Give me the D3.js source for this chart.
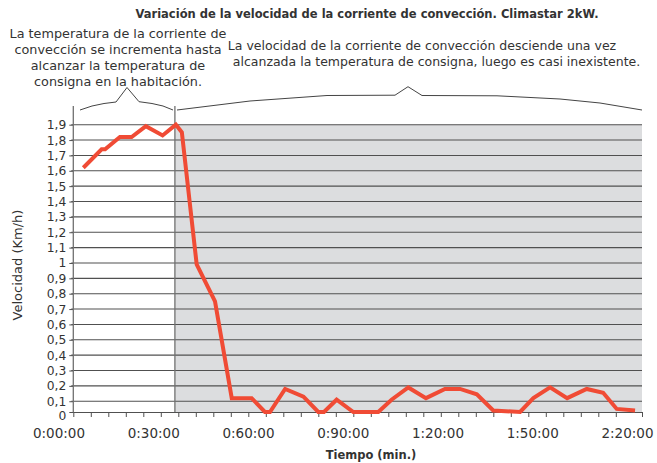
<!DOCTYPE html>
<html>
<head>
<meta charset="utf-8">
<script src="https://cdnjs.cloudflare.com/ajax/libs/d3/7.8.5/d3.min.js"></script>
<style>
  body { margin: 0; background: #fff; }
  svg { display: block; }
  text { font-family: "DejaVu Sans", sans-serif; fill: #333; }
</style>
</head>
<body>
<svg></svg>
<script>
// time (min) and speed (km/h)
const times = [7.7, 13.5, 14.6, 19.3, 23.0, 27.5, 32.8, 37.0, 38.9, 43.6, 49.4, 54.7, 61.0, 65.2, 66.8,
  71.6, 77.4, 82.1, 83.9, 87.9, 93.2, 101.1, 105.3, 110.6, 116.2, 122.2, 127.0, 132.3, 137.5, 146.0,
  150.2, 155.5, 160.9, 167.1, 172.3, 176.6, 182.4]
const speeds = [1.62, 1.74, 1.74, 1.82, 1.82, 1.89, 1.83, 1.9, 1.85, 0.99, 0.75, 0.12, 0.12, 0, 0,
  0.18, 0.13, 0, 0, 0.11, 0, 0, 0.11, 0.19, 0.12, 0.18, 0.18, 0.145, 0.04, 0.03,
  0.12, 0.19, 0.12, 0.18, 0.155, 0.05, 0.04]

const xLabels = ["0:00:00", "0:30:00", "0:60:00", "0:90:00", "1:20:00", "1:50:00", "2:20:00"]
const xLabelTimes = [0, 30, 60, 90, 120, 150, 180]
const yTicks = [0, 0.1, 0.2, 0.3, 0.4, 0.5, 0.6, 0.7, 0.8, 0.9, 1, 1.1, 1.2, 1.3, 1.4, 1.5, 1.6, 1.7, 1.8, 1.9]
const consigna = 36.7   // moment the set temperature is reached

const title = "Variación de la velocidad de la corriente de convección. Climastar 2kW."
const noteLeft = ["La temperatura de la corriente de", "convección se incrementa hasta",
  "alcanzar la temperatura de", "consigna en la habitación."]
const noteRight = ["La velocidad de la corriente de convección desciende una vez",
  "alcanzada la temperatura de consigna, luego es casi inexistente."]

const width = 657, height = 463
const mLeft = 73.3, mRight = 642, mTop = 124.7, mBottom = 412

const svg = d3.select("svg")
  .attr("width", width)
  .attr("height", height)

const x = d3.scaleLinear()
  .domain([4.53, 184.6])
  .range([mLeft, mRight])

const y = d3.scaleLinear()
  .domain([0.03, 1.9])
  .range([mBottom, mTop])
  .clamp(true)

// shaded part after the set temperature
svg.append("rect")
  .attr("x", x(consigna))
  .attr("y", y(1.9))
  .attr("width", x.range()[1] - x(consigna))
  .attr("height", y(0) - y(1.9))
  .attr("fill", "#dcdddf")

// grid
svg.append("g")
  .selectAll("line")
  .data(yTicks.filter(d => d > 0))
  .join("line")
    .attr("x1", mLeft - 2)
    .attr("x2", mRight)
    .attr("y1", d => y(d))
    .attr("y2", d => y(d))
    .attr("stroke", "#505050")
    .attr("stroke-width", 1.1)

// y axis
const yAxis = d3.axisLeft(y)
  .tickValues(yTicks)
  .tickSize(4)
  .tickFormat(d => d3.format("~g")(d).replace(".", ","))

svg.append("g")
  .attr("transform", `translate(${mLeft},0)`)
  .call(yAxis)
  .call(g => g.select(".domain").remove())
  .call(g => g.selectAll("line").attr("stroke", "#505050"))
  .call(g => g.selectAll("text").attr("x", -7).attr("font-size", 12.3).attr("fill", "#3a3a3a")
    .attr("y", d => d === 0 ? 3.5 : 0)
    .style("font-family", "'DejaVu Sans', sans-serif"))

// x axis with small ticks
const step = 17.5 / (x(1) - x(0))
const xTicks = d3.range(x.domain()[0], x.domain()[1] - step / 2, step).concat([x.domain()[1]])
const xAxis = d3.axisBottom(x)
  .tickValues(xTicks)
  .tickSize(5)
  .tickFormat("")

svg.append("g")
  .attr("transform", `translate(0,${mBottom})`)
  .call(xAxis)
  .call(g => g.select(".domain").attr("stroke", "#505050").attr("d", `M${mLeft},0.5H${mRight}`))
  .call(g => g.selectAll("line").attr("stroke", "#505050"))

svg.append("g")
  .selectAll("text")
  .data(xLabels)
  .join("text")
    .attr("x", (d, i) => x(xLabelTimes[i]))
    .attr("y", 438)
    .attr("text-anchor", "middle")
    .attr("font-size", 13.5)
    .attr("fill", "#3a3a3a")
    .text(d => d)

// vertical lines: axis and set temperature
svg.append("line")
  .attr("x1", mLeft).attr("x2", mLeft)
  .attr("y1", 106).attr("y2", mBottom)
  .attr("stroke", "#707070").attr("stroke-width", 1.3)

svg.append("line")
  .attr("x1", x(consigna)).attr("x2", x(consigna))
  .attr("y1", 106).attr("y2", mBottom)
  .attr("stroke", "#707070").attr("stroke-width", 1.3)

// speed line
const line = d3.line()
  .x((d, i) => x(times[i]))
  .y(d => y(d))

svg.append("path")
  .datum(speeds)
  .attr("fill", "none")
  .attr("stroke", "#f04b35")
  .attr("stroke-width", 4)
  .attr("d", line)

// braces
const brace = d3.line().curve(d3.curveLinear)
const braceLeft = [[80,110],[92,106],[104,103.5],[116,102],[127,87.5],[139,101.7],[152,103.5],[163,106],[173,110]]
const braceRight = [[177,110],[250,101],[327,95.5],[395,95.2],[408,86.7],[422,95.5],[497,95.8],[560,99],[600,103],[642,110]]
svg.selectAll(".brace")
  .data([braceLeft, braceRight])
  .join("path")
    .attr("class", "brace")
    .attr("fill", "none")
    .attr("stroke", "#444")
    .attr("stroke-width", 1)
    .attr("d", brace)

// texts
svg.append("text")
  .attr("x", 367).attr("y", 18)
  .attr("text-anchor", "middle")
  .attr("font-size", 11.5)
  .attr("font-weight", "bold")
  .text(title)

svg.append("g")
  .selectAll("text")
  .data(noteLeft)
  .join("text")
    .attr("x", 118)
    .attr("y", (d, i) => 38 + i * 16)
    .attr("text-anchor", "middle")
    .attr("font-size", 12.8)
    .text(d => d)

const noteRightX = [422, 436.5]
svg.append("g")
  .selectAll("text")
  .data(noteRight)
  .join("text")
    .attr("x", (d, i) => noteRightX[i])
    .attr("y", (d, i) => 50 + i * 16)
    .attr("text-anchor", "middle")
    .attr("font-size", 12.5)
    .text(d => d)

svg.append("text")
  .attr("transform", "translate(22,265) rotate(-90)")
  .attr("text-anchor", "middle")
  .attr("font-size", 13)
  .text("Velocidad (Km/h)")

svg.append("text")
  .attr("x", 371).attr("y", 459)
  .attr("text-anchor", "middle")
  .attr("font-size", 11.5)
  .attr("font-weight", "bold")
  .text("Tiempo (min.)")
</script>
</body>
</html>
